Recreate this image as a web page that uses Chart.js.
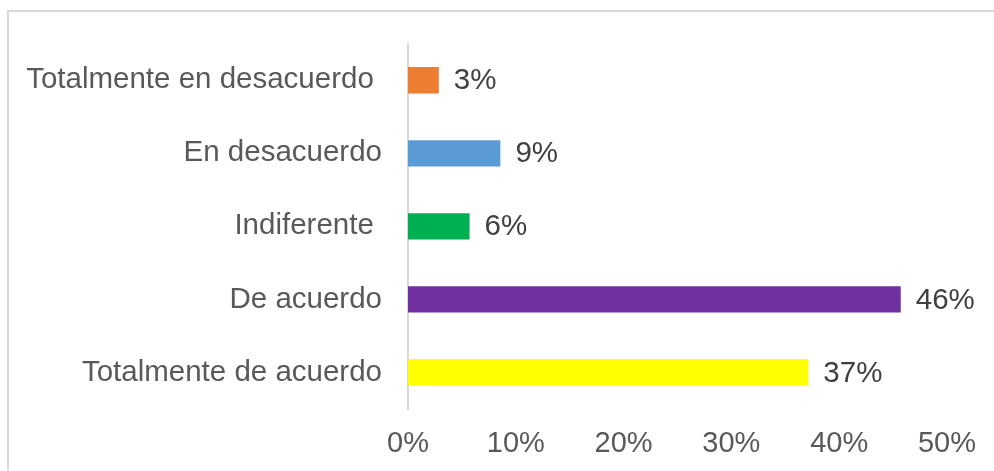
<!DOCTYPE html>
<html>
<head>
<meta charset="utf-8">
<script src="https://cdn.jsdelivr.net/npm/chart.js@4.4.1/dist/chart.umd.min.js"></script>
<style>
    html, body { margin: 0; padding: 0; background: #ffffff; overflow: hidden; }
    #frame {
        position: absolute; left: 7px; top: 10px;
        width: 1010px; height: 500px;
        border: 2px solid #d9d9d9;
    }
    #wrap { position: absolute; left: 0; top: 0; width: 994px; height: 471px; }
</style>
</head>
<body>
<div id="frame"></div>
<div id="wrap"><canvas id="surveyChart" width="994" height="471"></canvas></div>
<script>
// Survey answers (n = 35), shown as percentages
const categories = [
    'Totalmente en desacuerdo ',
    'En desacuerdo',
    'Indiferente ',
    'De acuerdo',
    'Totalmente de acuerdo'
];
const percentValues = [2.86, 8.57, 5.71, 45.71, 37.14];
const barColors = ['#ED7D31', '#5B9BD5', '#00B050', '#7030A0', '#FFFF00'];
const tickValues = [0, 10, 20, 30, 40, 50];

const fontFamily = '"Liberation Sans", Arial, sans-serif';

// Draws the "x%" label just after the end of each bar
const valueLabels = {
    id: 'valueLabels',
    afterDatasetsDraw(chart) {
        const ctx = chart.ctx;
        const meta = chart.getDatasetMeta(0);
        ctx.save();
        ctx.font = '29.5px ' + fontFamily;
        ctx.fillStyle = '#404040';
        ctx.textAlign = 'left';
        ctx.textBaseline = 'middle';
        meta.data.forEach((bar, i) => {
            const text = Math.round(percentValues[i]) + '%';
            ctx.fillText(text, bar.x + 15, bar.y + 1);
        });
        ctx.restore();
    }
};

const ctx = document.getElementById('surveyChart').getContext('2d');

new Chart(ctx, {
    type: 'bar',
    data: {
        labels: categories,
        datasets: [{
            data: percentValues,
            backgroundColor: barColors,
            borderWidth: 0,
            categoryPercentage: 1,
            barPercentage: 0.36
        }]
    },
    options: {
        indexAxis: 'y',
        responsive: false,
        animation: false,
        layout: {
            padding: { top: 42, right: 41, bottom: 0, left: 0 }
        },
        plugins: {
            legend: { display: false },
            tooltip: { enabled: false }
        },
        scales: {
            x: {
                min: 0,
                max: 50,
                afterBuildTicks(scale) {
                    scale.ticks = tickValues.map(v => ({ value: v }));
                },
                afterFit(scale) {
                    scale.height = 62;
                },
                grid: { display: false, drawTicks: false },
                border: { display: false },
                ticks: {
                    padding: 18,
                    color: '#595959',
                    font: { family: fontFamily, size: 29 },
                    callback: v => v + '%'
                }
            },
            y: {
                afterFit(scale) {
                    scale.width = 408;
                },
                grid: { display: false, drawTicks: false },
                border: { display: true, color: '#d9d9d9', width: 2 },
                ticks: {
                    padding: 26,
                    color: '#595959',
                    font: { family: fontFamily, size: 29.5 }
                }
            }
        }
    },
    plugins: [valueLabels]
});
</script>
</body>
</html>
